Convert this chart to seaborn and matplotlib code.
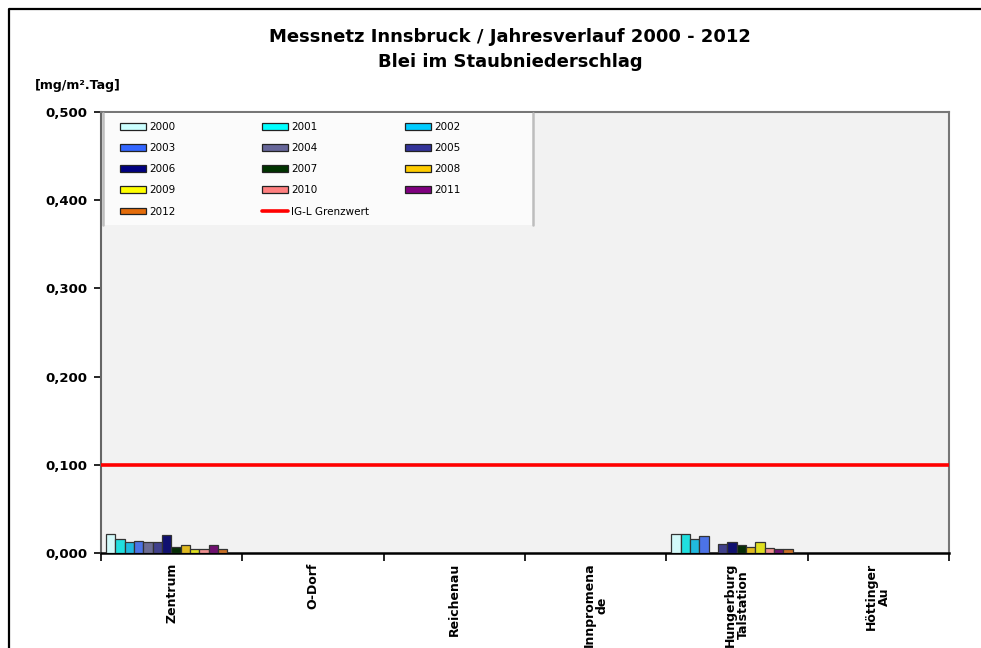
import numpy as np
import pandas as pd
import matplotlib
matplotlib.use("Agg")
import matplotlib.pyplot as plt
from matplotlib.patches import Patch, Rectangle
from matplotlib.lines import Line2D
from matplotlib.legend import Legend
from matplotlib.ticker import FuncFormatter, FixedLocator
import seaborn as sns

# Stations (x categories) and their tick labels
stations = ["Zentrum", "O-Dorf", "Reichenau", "Innpromenade", "Hungerburg Talstation", "Höttinger Au"]
station_labels = ["Zentrum", "O-Dorf", "Reichenau", "Innpromena\nde", "Hungerburg\nTalstation", "Höttinger\nAu"]
years = [str(y) for y in range(2000, 2013)]

# Lead in dust deposition [mg/m².Tag] per year and station
zentrum = [0.021, 0.016, 0.013, 0.014, 0.012, 0.013, 0.020, 0.007, 0.009, 0.004, 0.004, 0.009, 0.005]
o_dorf = [np.nan] * 13
reichenau = [np.nan] * 13
innpromenade = [np.nan] * 13
hungerburg = [0.021, 0.022, 0.016, 0.019, np.nan, 0.010, 0.012, 0.009, 0.007, 0.013, 0.006, 0.004, 0.005]
hoettinger_au = [np.nan] * 13

grenzwert = 0.100

year_colors = ["#ccffff", "#00ffff", "#00ccff", "#3366ff", "#666699", "#333399", "#000080",
               "#003300", "#ffcc00", "#ffff00", "#ff8080", "#800080", "#e46c0a"]

series = [zentrum, o_dorf, reichenau, innpromenade, hungerburg, hoettinger_au]
rows = []
for st, vals in zip(stations, series):
    for yr, v in zip(years, vals):
        rows.append({"Station": st, "Jahr": yr, "Wert": v})
df = pd.DataFrame(rows)

sns.set_style("white")
plt.rcParams["font.family"] = ["DejaVu Sans"]
plt.rcParams["text.color"] = "black"
plt.rcParams["xtick.color"] = "black"
plt.rcParams["ytick.color"] = "black"
plt.rcParams["xtick.labelcolor"] = "black"
plt.rcParams["ytick.labelcolor"] = "black"

W, H = 981, 648
fig = plt.figure(figsize=(W / 100, H / 100), dpi=100)
ax = fig.add_axes([101 / W, 1 - 553 / H, 848 / W, 441 / H])
ax.set_facecolor("#f2f2f2")

palette = dict(zip(years, year_colors))
sns.barplot(data=df, x="Station", y="Wert", hue="Jahr", order=stations, hue_order=years,
            palette=palette, width=0.86, edgecolor="#333333", linewidth=0.9,
            errorbar=None, legend=False, ax=ax, zorder=3)
# groups sit slightly left of the category centre
for p in ax.patches:
    p.set_x(p.get_x() - 0.035)

ax.axhline(grenzwert, color="#ff0000", lw=2.6, zorder=4)

ax.set_xlim(-0.5, len(stations) - 0.5)
ax.set_ylim(0, 0.5)
ax.set_yticks(np.arange(0, 0.501, 0.1))
ax.yaxis.set_major_formatter(FuncFormatter(lambda v, p: f"{v:.3f}".replace(".", ",")))
ax.tick_params(axis="y", direction="out", length=5, width=1.2, color="black",
               labelcolor="black", labelsize=9.5, pad=5, left=True)
for t in ax.get_yticklabels():
    t.set_fontweight("bold")

# Ticks on category boundaries, labels centred between them
ax.xaxis.set_major_locator(FixedLocator(np.arange(-0.5, len(stations), 1.0)))
ax.xaxis.set_minor_locator(FixedLocator(np.arange(len(stations))))
ax.set_xticklabels([""] * (len(stations) + 1))
ax.set_xticklabels(station_labels, minor=True, rotation=90, fontsize=9, color="black",
                   fontweight="bold", va="top", ha="center", linespacing=1.0)
ax.tick_params(axis="x", which="major", direction="out", length=6, width=1.2,
               color="black", bottom=True)
ax.tick_params(axis="x", which="minor", length=0, pad=7)
ax.set_xlabel("")
ax.set_ylabel("")

for side in ["top", "right"]:
    ax.spines[side].set_color("#777777")
    ax.spines[side].set_linewidth(1.5)
ax.spines["left"].set_color("#666666")
ax.spines["left"].set_linewidth(1.5)
ax.spines["bottom"].set_color("black")
ax.spines["bottom"].set_linewidth(1.8)

# Legend box: light panel with grey side rules
x0, x1 = (103 - 101) / 848, (533 - 101) / 848
y0, y1 = (553 - 225) / 441, (553 - 113) / 441
ax.add_patch(Rectangle((x0, y0), x1 - x0, y1 - y0, transform=ax.transAxes,
                       facecolor="#fbfbfb", edgecolor="none", zorder=5))
for xs in (x0, x1):
    ax.add_line(Line2D([xs, xs], [y0, y1], transform=ax.transAxes,
                       color="#bdbdbd", lw=1.8, zorder=5))

# Legend entries, filled row by row in three columns
handles = {yr: Patch(facecolor=c, edgecolor="#222222", linewidth=0.9) for yr, c in zip(years, year_colors)}
handles["IG-L Grenzwert"] = Line2D([], [], color="#ff0000", lw=2.6)
columns = [["2000", "2003", "2006", "2009", "2012"],
           ["2001", "2004", "2007", "2010", "IG-L Grenzwert"],
           ["2002", "2005", "2008", "2011"]]
col_x = [120, 262, 405]
for cx, labels in zip(col_x, columns):
    leg = Legend(ax, [handles[k] for k in labels], labels, loc="upper left",
                 bbox_to_anchor=((cx - 101) / 848, (553 - 122) / 441),
                 frameon=False, fontsize=7.5, borderaxespad=0, borderpad=0,
                 handlelength=2.5, handleheight=0.6, handletextpad=0.3,
                 labelspacing=1.07, labelcolor="black")
    leg.set_zorder(6)
    ax.add_artist(leg)

# Titles and unit
fig.text(510 / W, 1 - 37 / H, "Messnetz Innsbruck / Jahresverlauf 2000 - 2012",
         ha="center", va="center", fontsize=13, fontweight="bold", color="black")
fig.text(510 / W, 1 - 62 / H, "Blei im Staubniederschlag",
         ha="center", va="center", fontsize=13, fontweight="bold", color="black")
fig.text(35 / W, 1 - 86 / H, "[mg/m².Tag]", ha="left", va="center",
         fontsize=9, fontweight="bold", color="black")

# Outer frame around the chart
fig.add_artist(Line2D([9 / W, 9 / W, 1.0], [0, 1 - 9 / H, 1 - 9 / H],
                      transform=fig.transFigure, color="black", lw=1.6))

fig.savefig("out.png", dpi=100)
